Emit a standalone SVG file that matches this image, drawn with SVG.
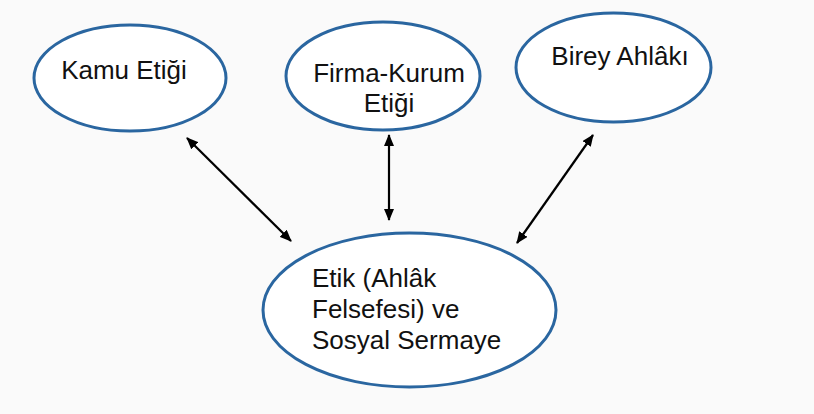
<svg xmlns="http://www.w3.org/2000/svg" width="814" height="414" viewBox="0 0 814 414">
<style>
.node ellipse{fill:#ffffff;stroke:#2a66a0;stroke-width:3}
.node text{font-family:"Liberation Sans",Arial,sans-serif;font-size:26px;fill:#111111}
.conn line{stroke:#000000;stroke-width:2.2}
</style>
<defs>
<marker id="ah" markerUnits="userSpaceOnUse" markerWidth="12" markerHeight="10" refX="11" refY="5" orient="auto-start-reverse" viewBox="0 0 12 10">
<path d="M0,0 L12,5 L0,10 Z" fill="#000000"/>
</marker>
</defs>
<rect width="814" height="414" fill="#fafafa"/>
<g id="kamu" class="node">
<ellipse cx="130" cy="78" rx="96" ry="53"/>
<text x="124" y="79" text-anchor="middle">Kamu Etiği</text>
</g>
<g id="firma" class="node">
<ellipse cx="383" cy="76" rx="97" ry="54"/>
<text x="389" y="82" text-anchor="middle">Firma-Kurum</text>
<text x="389" y="112" text-anchor="middle">Etiği</text>
</g>
<g id="birey" class="node">
<ellipse cx="613.5" cy="67.5" rx="97.5" ry="54.5"/>
<text x="620" y="65" text-anchor="middle">Birey Ahlâkı</text>
</g>
<g id="etik" class="node">
<ellipse cx="409.5" cy="310" rx="146.5" ry="77"/>
<text x="312" y="287">Etik (Ahlâk</text>
<text x="312" y="318">Felsefesi) ve</text>
<text x="312" y="349">Sosyal Sermaye</text>
</g>
<g id="connectors" class="conn">
<line x1="187" y1="138" x2="291" y2="241" marker-start="url(#ah)" marker-end="url(#ah)"/>
<line x1="389" y1="135" x2="389" y2="220" marker-start="url(#ah)" marker-end="url(#ah)"/>
<line x1="593" y1="135" x2="517" y2="243" marker-start="url(#ah)" marker-end="url(#ah)"/>
</g>
</svg>
